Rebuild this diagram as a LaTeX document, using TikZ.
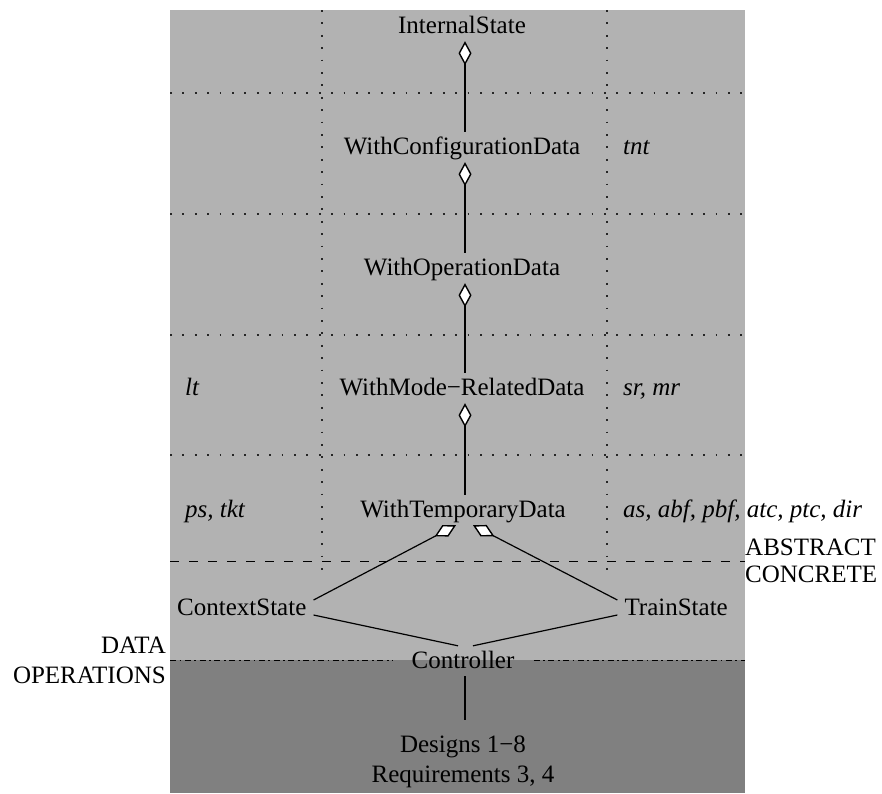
\documentclass[tikz,border=0pt]{standalone}
\usepackage{fontspec}
\setmainfont{Liberation Serif}
\usetikzlibrary{arrows.meta}
\begin{document}
\begin{tikzpicture}[x=1pt,y=-1pt,
  txt/.style={font=\fontsize{25}{30}\selectfont},
  mainnode/.style={txt,text height=19pt,text depth=5pt,inner ysep=3pt,inner xsep=7pt,anchor=base},
  sidelabel/.style={txt,font=\fontsize{25}{30}\selectfont\itshape,inner sep=0pt,anchor=base west},
  dotline/.style={line width=1.1pt,dash pattern=on 1.8pt off 10.6pt,color=black!85},
  dashline/.style={line width=0.9pt,dash pattern=on 9pt off 10pt},
  dashdotline/.style={line width=0.9pt,dash pattern=on 6pt off 3.5pt on 1.8pt off 3.5pt},
  conn/.style={line width=1.2pt},
  agg/.style={conn,-{Diamond[length=24pt,width=13pt,fill=white,line width=1.4pt]}}
]
\useasboundingbox (0,0) rectangle (882,793);
% backgrounds
\fill[black!30] (170,10) rectangle (745,660);
\fill[black!50] (170,660) rectangle (745,793);
% grid
\foreach \yy in {93,214,335,455} \draw[dotline] (170,\yy) -- (745,\yy);
\draw[dotline] (322,10) -- (322,576);
\draw[dotline] (607,10) -- (607,576);
\draw[dashline] (170,561) -- (745,561);
% nodes
\node[mainnode] (is)  at (462,33)  {InternalState};
\node[mainnode] (wcd) at (462,154) {WithConfigurationData};
\node[mainnode] (wod) at (462,275) {WithOperationData};
\node[mainnode] (wmd) at (462,395) {WithMode−RelatedData};
\node[mainnode] (wtd) at (463,517) {WithTemporaryData};
\node[mainnode,anchor=base west] (ctx) at (170,615) {ContextState};
\node[mainnode,anchor=base east] (trn) at (735,615) {TrainState};
\node[mainnode,inner xsep=19pt] (ctrl) at (463,668) {Controller};
\node[mainnode] (des1) at (463,752) {Designs 1−8};
\node[mainnode] (des2) at (463,782) {Requirements 3, 4};
% side labels
\node[sidelabel] (tnt) at (623,154) {tnt};
\node[sidelabel] (lt) at (185,395) {lt};
\node[sidelabel] (srmr) at (623,395) {sr, mr};
\node[sidelabel] (pstkt) at (185,517) {ps, tkt};
\node[sidelabel] (asab) at (623,517) {as, abf, pbf, atc, ptc, dir};
\node[txt,inner sep=0pt,anchor=base west] (abs) at (745,555) {ABSTRACT};
\node[txt,inner sep=0pt,anchor=base west] (con) at (745,582) {CONCRETE};
\node[txt,inner sep=0pt,anchor=base east] (dat) at (166,653) {DATA};
\node[txt,inner sep=0pt,anchor=base east] (ops) at (166,683) {OPERATIONS};
% dash-dot separator
\coordinate (dl) at (170,660);
\coordinate (dr) at (745,660);
\draw[dashdotline] (dl) -- (ctrl.west |- dl);
\draw[dashdotline] (ctrl.east |- dr) -- (dr);
% connectors
\draw[agg] ([xshift=3pt]wcd.north) -- ([xshift=3pt]is.south);
\draw[agg] ([xshift=3pt]wod.north) -- ([xshift=3pt]wcd.south);
\draw[agg] ([xshift=3pt]wmd.north) -- ([xshift=3pt]wod.south);
\draw[agg] ([xshift=2pt]wtd.north) -- ([xshift=3pt]wmd.south);
\draw[agg] ([yshift=8pt]ctx.east) -- ([xshift=-7pt]wtd.south);
\draw[agg] ([yshift=8pt]trn.west) -- ([xshift=10pt]wtd.south);
\draw[conn] ([yshift=-7pt]ctx.east) -- ([xshift=-5pt]ctrl.north);
\draw[conn] ([yshift=-7pt]trn.west) -- ([xshift=10pt]ctrl.north);
\draw[conn] ([xshift=2pt]ctrl.south) -- ([xshift=2pt,yshift=10pt]des1.north);
\end{tikzpicture}
\end{document}
